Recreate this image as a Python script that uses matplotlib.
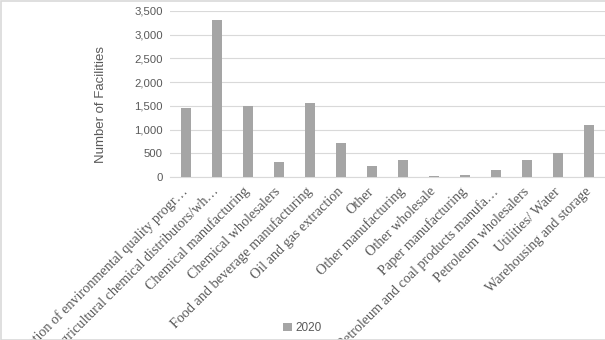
import matplotlib
matplotlib.use("Agg")
import matplotlib.pyplot as plt
from matplotlib.patches import Rectangle

categories = [
    "Administration of environmental quality progr\u2026",
    "Agricultural chemical distributors/wh\u2026",
    "Chemical manufacturing",
    "Chemical wholesalers",
    "Food and beverage manufacturing",
    "Oil and gas extraction",
    "Other",
    "Other manufacturing",
    "Other wholesale",
    "Paper manufacturing",
    "Petroleum and coal products manufa\u2026",
    "Petroleum wholesalers",
    "Utilities/ Water",
    "Warehousing and storage",
]
values_2020 = [1456, 3312, 1498, 316, 1561, 717, 232, 359, 28, 49, 148, 359, 506, 1097]
yticks = [0, 500, 1000, 1500, 2000, 2500, 3000, 3500]
series_name = "2020"

fig = plt.figure(figsize=(6.05, 3.4), dpi=100)
ax = fig.add_axes([170/605, 1-177/340, 435/605, 166/340])

x = list(range(len(categories)))
ax.bar(x, values_2020, width=0.32, color="#a5a5a5", label=series_name, zorder=3)
ax.set_xlim(-0.5, len(categories)-0.5)
ax.set_ylim(0, 3500)
ax.set_yticks(yticks)
ax.set_yticklabels([f"{v:,}" for v in yticks], fontsize=8.2, color="#595959",
                   family="Liberation Sans")
ax.grid(axis="y", color="#d9d9d9", linewidth=0.8, zorder=0)
ax.tick_params(axis="y", length=0, pad=5)
ax.tick_params(axis="x", length=0, pad=9)
for s in ["top", "right", "left"]:
    ax.spines[s].set_visible(False)
ax.spines["bottom"].set_color("#d9d9d9")
ax.set_xticks(x)
ax.set_xticklabels(categories, rotation=45, ha="right", va="center", rotation_mode="anchor",
                   fontsize=10.2, color="#595959", family="Liberation Serif")
for lbl in ax.get_xticklabels():
    lbl.set_x(lbl.get_position()[0])
ax.set_ylabel("Number of Facilities", fontsize=9.5, color="#595959", family="Liberation Sans")
ax.yaxis.set_label_coords(-0.145, 0.434)

leg = fig.legend(loc="center", bbox_to_anchor=(0.5, 0.035), frameon=False,
                 prop={"family": "Liberation Sans", "size": 8.5},
                 handlelength=0.7, handleheight=0.7, handletextpad=0.3)
for t in leg.get_texts():
    t.set_color("#595959")

fig.patches.append(Rectangle((0.001, 0.0), 1.2, 0.997, transform=fig.transFigure,
                             fill=False, edgecolor="#d9d9d9", linewidth=1.2))
fig.savefig("out.png", dpi=100)
